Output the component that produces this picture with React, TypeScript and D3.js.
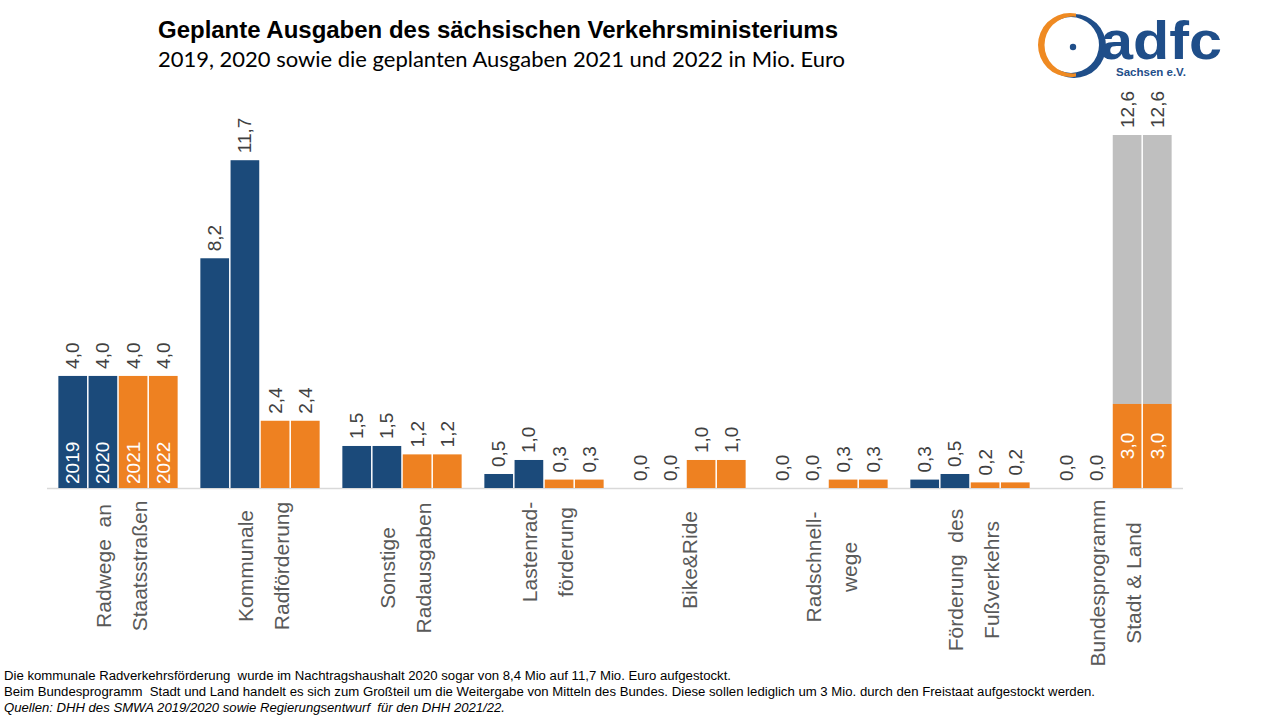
import React from "react";
import * as d3 from "d3";

const categories: string[][] = [
  ["Radwege  an", "Staatsstraßen"],
  ["Kommunale", "Radförderung"],
  ["Sonstige", "Radausgaben"],
  ["Lastenrad-", "förderung"],
  ["Bike&Ride"],
  ["Radschnell-", "wege"],
  ["Förderung  des", "Fußverkehrs"],
  ["Bundesprogramm", "Stadt & Land"],
];
const years = ["2019", "2020", "2021", "2022"];
const values2019 = [4.0, 8.2, 1.5, 0.5, 0.0, 0.0, 0.3, 0.0];
const values2020 = [4.0, 11.7, 1.5, 1.0, 0.0, 0.0, 0.5, 0.0];
const values2021 = [4.0, 2.4, 1.2, 0.3, 1.0, 0.3, 0.2, 3.0];
const values2022 = [4.0, 2.4, 1.2, 0.3, 1.0, 0.3, 0.2, 3.0];
// total incl. federal share (grey), only for Bundesprogramm
const total2021 = [0, 0, 0, 0, 0, 0, 0, 12.6];
const total2022 = [0, 0, 0, 0, 0, 0, 0, 12.6];

const title = "Geplante Ausgaben des sächsischen Verkehrsministeriums";
const subtitle = "2019, 2020 sowie die geplanten Ausgaben 2021 und 2022 in Mio. Euro";
const notes = [
  "Die kommunale Radverkehrsförderung  wurde im Nachtragshaushalt 2020 sogar von 8,4 Mio auf 11,7 Mio. Euro aufgestockt.",
  "Beim Bundesprogramm  Stadt und Land handelt es sich zum Großteil um die Weitergabe von Mitteln des Bundes. Diese sollen lediglich um 3 Mio. durch den Freistaat aufgestockt werden.",
  "Quellen: DHH des SMWA 2019/2020 sowie Regierungsentwurf  für den DHH 2021/22.",
];

const BLUE = "#1b4a7a";
const ORANGE = "#ee8121";
const GREY = "#bfbfbf";
const LOGO_BLUE = "#1f4e89";
const LOGO_ORANGE = "#ef8a22";

const labelCenterY = [566, 566, 568, 552, 560, 567, 580, 583];

export default function App() {
  const series = [values2019, values2020, values2021, values2022];
  const totals = [null, null, total2021, total2022];
  const x0 = d3
    .scaleBand<number>()
    .domain(d3.range(categories.length))
    .range([47, 1183])
    .paddingInner(0.16)
    .paddingOuter(0.08);
  const x1 = d3
    .scaleBand<number>()
    .domain(d3.range(years.length))
    .range([0, x0.bandwidth()])
    .paddingInner(0.05);
  const y = d3.scaleLinear().domain([0, 12.6]).range([488, 135]);
  const fmt = (v: number) => d3.format(".1f")(v).replace(".", ",");
  const font = "'Liberation Sans', Arial, sans-serif";

  const bars: React.ReactNode[] = [];
  const labels: React.ReactNode[] = [];
  categories.forEach((_, ci) => {
    series.forEach((vals, si) => {
      const bx = (x0(ci) as number) + (x1(si) as number);
      const bw = x1.bandwidth();
      const cx = bx + bw / 2;
      const v = vals[ci];
      const tot = totals[si] ? (totals[si] as number[])[ci] : 0;
      const col = si < 2 ? BLUE : ORANGE;
      if (tot > 0) {
        bars.push(
          <rect key={`g${ci}-${si}`} x={bx} y={y(tot)} width={bw} height={y(v) - y(tot)} fill={GREY} />
        );
      }
      if (v > 0) {
        bars.push(
          <rect key={`b${ci}-${si}`} x={bx} y={y(v)} width={bw} height={y(0) - y(v)} fill={col} />
        );
      }
      if (tot > 0) {
        labels.push(
          <text key={`li${ci}-${si}`} transform={`translate(${cx},${(y(v) + y(0)) / 2}) rotate(-90)`}
            textAnchor="middle" dominantBaseline="central" fill="#fff" fontSize={19} fontFamily={font}>
            {fmt(v)}
          </text>
        );
        labels.push(
          <text key={`lt${ci}-${si}`} transform={`translate(${cx},${y(tot) - 7}) rotate(-90)`}
            textAnchor="start" dominantBaseline="central" fill="#404040" fontSize={19} fontFamily={font}>
            {fmt(tot)}
          </text>
        );
      } else {
        labels.push(
          <text key={`l${ci}-${si}`} transform={`translate(${cx},${y(v) - 7}) rotate(-90)`}
            textAnchor="start" dominantBaseline="central" fill="#404040" fontSize={19} fontFamily={font}>
            {fmt(v)}
          </text>
        );
      }
      if (ci === 0) {
        labels.push(
          <text key={`y${si}`} transform={`translate(${cx},${y(0) - 4}) rotate(-90)`}
            textAnchor="start" dominantBaseline="central" fill="#fff" fontSize={19} fontFamily={font}>
            {years[si]}
          </text>
        );
      }
    });
  });

  const catLabels = categories.map((lines, ci) => {
    const gc = (x0(ci) as number) + x0.bandwidth() / 2 + 3;
    const n = lines.length;
    return lines.map((line, li) => {
      const lx = gc + (li - (n - 1) / 2) * 36;
      return (
        <text key={`c${ci}-${li}`} transform={`translate(${lx},${labelCenterY[ci]}) rotate(-90)`}
          textAnchor="middle" dominantBaseline="central" fill="#595959" fontSize={21}
          fontFamily={font} style={{ whiteSpace: "pre" }}>
          {line}
        </text>
      );
    });
  });

  const circ = (cx: number, cy: number, r: number) =>
    `M${cx - r},${cy}a${r},${r} 0 1,0 ${2 * r},0a${r},${r} 0 1,0 ${-2 * r},0Z`;

  return (
    <svg width={1280} height={720} style={{ position: "absolute", left: 0, top: 0, background: "#fff" }}>
      <rect width={1280} height={720} fill="#fff" />
      <text x={158} y={38} fontFamily={font} fontWeight="bold" fontSize={23.5} fill="#000" textLength={680} lengthAdjust="spacingAndGlyphs">
        {title}
      </text>
      <text x={158} y={67} fontFamily="Lato, 'Open Sans', sans-serif" fontSize={20.5} fill="#000" textLength={687} lengthAdjust="spacingAndGlyphs">
        {subtitle}
      </text>

      {/* logo */}
      <defs>
        <clipPath id="leftHalf">
          <rect x={1030} y={5} width={46} height={80} />
        </clipPath>
        <clipPath id="rightHalf">
          <rect x={1058} y={5} width={60} height={80} />
        </clipPath>
      </defs>
      <path d={circ(1074, 46, 32) + circ(1071, 45, 28)} fill={LOGO_BLUE} fillRule="evenodd" clipPath="url(#rightHalf)" />
      <path d={circ(1070, 45, 32) + circ(1073, 45, 28.5)} fill={LOGO_ORANGE} fillRule="evenodd" clipPath="url(#leftHalf)" />
      <circle cx={1073} cy={47} r={3.2} fill={LOGO_BLUE} />
      <text x={1100} y={59} fontFamily={font} fontWeight="bold" fontSize={54} fill={LOGO_BLUE} textLength={122} lengthAdjust="spacingAndGlyphs">
        adfc
      </text>
      <text x={1116} y={76} fontFamily={font} fontWeight="bold" fontSize={11.5} fill={LOGO_BLUE}>
        Sachsen e.V.
      </text>

      <line x1={47} x2={1183} y1={y(0) + 0.5} y2={y(0) + 0.5} stroke="#d9d9d9" strokeWidth={1.5} />
      {bars}
      {labels}
      {catLabels}

      {notes.map((t, i) => (
        <text key={`n${i}`} x={4} y={680 + i * 16} fontFamily="'Liberation Sans Narrow', 'Arial Narrow', 'Liberation Sans', sans-serif"
          fontSize={12.5} fill="#000" fontStyle={i === 2 ? "italic" : "normal"} style={{ whiteSpace: "pre" }}
          textLength={[727, 1091, 501][i]} lengthAdjust="spacingAndGlyphs">
          {t}
        </text>
      ))}
    </svg>
  );
}
